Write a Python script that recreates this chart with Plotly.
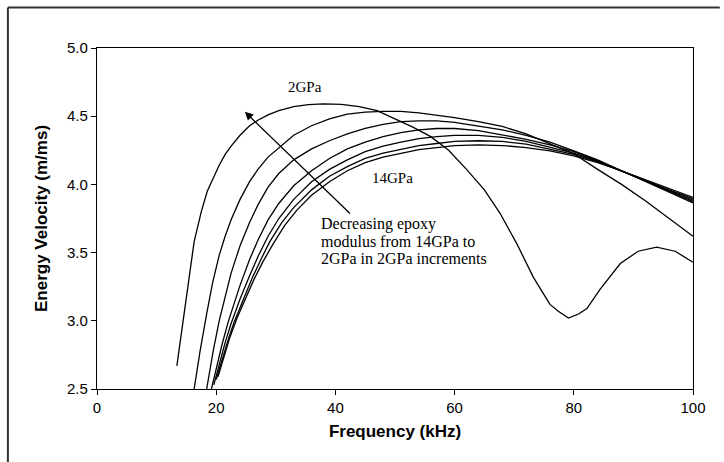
import plotly.graph_objects as go

# ---- data (frequency kHz, energy velocity m/ms) ----
f_2 = [13.4, 14.5, 15.5, 16.3, 17.5, 18.5, 19.4, 20.5, 21.5, 22.5, 24, 25.6, 27, 28.7, 30.5, 33, 35.5, 38, 41,
       44, 47, 50, 53, 56, 59, 62, 65, 67.6, 70.5, 73.2, 76, 77.4, 79.1, 80.8, 82.2, 84.4, 87.8, 90.8, 93.9, 97, 100]
v_2 = [2.67, 3.00, 3.33, 3.58, 3.80, 3.95, 4.04, 4.14, 4.22, 4.28, 4.36, 4.43, 4.47, 4.51, 4.54, 4.57, 4.585, 4.59, 4.587,
       4.57, 4.54, 4.48, 4.42, 4.35, 4.25, 4.11, 3.96, 3.79, 3.56, 3.32, 3.12, 3.07, 3.02, 3.05, 3.09, 3.23, 3.42, 3.51, 3.54, 3.51, 3.43]

f_4 = [16.3, 17.3, 18.4, 19.4, 20.5, 21.5, 22.5, 24, 25.6, 27, 28.7, 30.5, 33, 36, 39, 42, 45, 48, 51, 54, 57, 60,
       64, 68, 72, 76, 80, 84, 88, 92, 96, 100]
v_4 = [2.50, 2.78, 3.05, 3.28, 3.48, 3.62, 3.74, 3.89, 4.02, 4.11, 4.20, 4.27, 4.36, 4.43, 4.48, 4.515, 4.53, 4.535, 4.535,
       4.525, 4.51, 4.49, 4.46, 4.425, 4.37, 4.30, 4.225, 4.11, 4.00, 3.88, 3.75, 3.62]

f_6 = [18.4, 19.5, 20.5, 21.5, 22.5, 24, 25.6, 27, 28.7, 30.5, 33, 36, 39, 42, 45, 48, 51, 54, 57, 60, 64, 68, 72,
       76, 80, 84, 88, 92, 96, 100]
v_6 = [2.50, 2.78, 3.00, 3.18, 3.35, 3.55, 3.72, 3.85, 3.98, 4.08, 4.18, 4.26, 4.32, 4.37, 4.41, 4.44, 4.46, 4.465, 4.465,
       4.455, 4.43, 4.40, 4.36, 4.31, 4.245, 4.18, 4.10, 4.02, 3.945, 3.865]

f_8 = [19.2, 20, 21, 22, 23, 24, 25.6, 27, 28.7, 30.5, 33, 36, 39, 42, 45, 48, 51, 54, 57, 60, 64, 68, 72, 76, 80,
       84, 88, 92, 96, 100]
v_8 = [2.50, 2.65, 2.83, 2.99, 3.13, 3.26, 3.45, 3.59, 3.74, 3.86, 3.99, 4.10, 4.19, 4.26, 4.31, 4.35, 4.38, 4.40, 4.41,
       4.41, 4.395, 4.365, 4.33, 4.29, 4.24, 4.175, 4.10, 4.022, 3.95, 3.875]

f_10 = [19.6, 20.5, 21.5, 22.5, 24, 25.6, 27, 28.7, 30.5, 33, 36, 39, 42, 45, 48, 51, 54, 57, 60, 64, 68, 72, 76, 80,
        84, 88, 92, 96, 100]
v_10 = [2.53, 2.68, 2.84, 2.98, 3.16, 3.33, 3.47, 3.62, 3.75, 3.89, 4.02, 4.11, 4.18, 4.24, 4.28, 4.31, 4.335, 4.35, 4.36,
        4.36, 4.345, 4.315, 4.275, 4.23, 4.17, 4.10, 4.025, 3.955, 3.885]

f_12 = [20, 21, 22, 23, 24.5, 26, 27.5, 29, 31, 33, 36, 39, 42, 45, 48, 51, 54, 57, 60, 64, 68, 72, 76, 80, 84, 88,
        92, 96, 100]
v_12 = [2.57, 2.72, 2.86, 2.99, 3.15, 3.31, 3.45, 3.58, 3.72, 3.83, 3.96, 4.06, 4.13, 4.19, 4.23, 4.26, 4.285, 4.30, 4.315,
        4.32, 4.315, 4.295, 4.26, 4.22, 4.165, 4.10, 4.03, 3.96, 3.895]

f_14 = [20.3, 21.3, 22.3, 23.5, 24.8, 26.3, 27.8, 29.5, 31.5, 33.5, 36, 39, 42, 45, 48, 51, 54, 57, 60, 64, 68, 72,
        76, 80, 84, 88, 92, 96, 100]
v_14 = [2.59, 2.74, 2.88, 3.02, 3.15, 3.30, 3.43, 3.56, 3.70, 3.81, 3.92, 4.02, 4.10, 4.16, 4.20, 4.23, 4.255, 4.27, 4.285,
        4.29, 4.285, 4.27, 4.245, 4.21, 4.16, 4.10, 4.035, 3.965, 3.905]

series = [("2GPa", f_2, v_2), ("4GPa", f_4, v_4), ("6GPa", f_6, v_6), ("8GPa", f_8, v_8),
          ("10GPa", f_10, v_10), ("12GPa", f_12, v_12), ("14GPa", f_14, v_14)]

x_ticks = [0, 20, 40, 60, 80, 100]
y_ticks = [2.5, 3.0, 3.5, 4.0, 4.5, 5.0]

fig = go.Figure()
for name, fx, vy in series:
    fig.add_trace(go.Scatter(x=fx, y=vy, mode="lines", name=name,
                             line=dict(color="black", width=1.3), showlegend=False))

serif = "Times New Roman, Liberation Serif, serif"
sans = "Arial, Liberation Sans, sans-serif"

annotations = [
    dict(x=34.9, y=4.716, text="2GPa", showarrow=False, font=dict(family=serif, size=15, color="black")),
    dict(x=49.6, y=4.045, text="14GPa", showarrow=False, font=dict(family=serif, size=15, color="black")),
    dict(x=37.3, y=3.710, text="Decreasing epoxy", showarrow=False, xanchor="left",
         font=dict(family=serif, size=16, color="black")),
    dict(x=37.3, y=3.580, text="modulus from 14GPa to", showarrow=False, xanchor="left",
         font=dict(family=serif, size=16, color="black")),
    dict(x=37.3, y=3.458, text="2GPa in 2GPa increments", showarrow=False, xanchor="left",
         font=dict(family=serif, size=16, color="black")),
    dict(x=24.8, y=4.533, ax=42.7, ay=3.776, axref="x", ayref="y", xref="x", yref="y", text="",
         showarrow=True, arrowhead=2, arrowsize=1.3, arrowwidth=1.3, arrowcolor="black"),
]

fig.update_layout(
    width=724, height=462,
    margin=dict(l=97, r=31, t=48, b=73),
    paper_bgcolor="white", plot_bgcolor="white",
    font=dict(family=sans, size=15, color="black"),
    annotations=annotations,
    xaxis=dict(range=[0, 100], tickvals=x_ticks, ticks="outside", ticklen=5, tickcolor="black",
               showline=True, linecolor="black", linewidth=1.3, mirror=True, showgrid=False, zeroline=False,
               tickfont=dict(family=sans, size=15),
               title=dict(text="<b>Frequency (kHz)</b>", font=dict(family=sans, size=17), standoff=9)),
    yaxis=dict(range=[2.5, 5.0], tickvals=y_ticks, tickformat=".1f", ticks="outside", ticklen=5,
               tickcolor="black", showline=True, linecolor="black", linewidth=1.3, mirror=True,
               showgrid=False, zeroline=False, tickfont=dict(family=sans, size=15),
               title=dict(text="<b>Energy Velocity (m/ms)</b>", font=dict(family=sans, size=17), standoff=15)),
    shapes=[
        dict(type="line", xref="paper", yref="paper", x0=-0.1495, x1=-0.1495, y0=1.119, y1=-0.25,
             line=dict(color="#333", width=2)),
        dict(type="line", xref="paper", yref="paper", x0=-0.1495, x1=1.045, y0=1.119, y1=1.119,
             line=dict(color="#333", width=2)),
    ],
)

fig.write_html("out.html")
